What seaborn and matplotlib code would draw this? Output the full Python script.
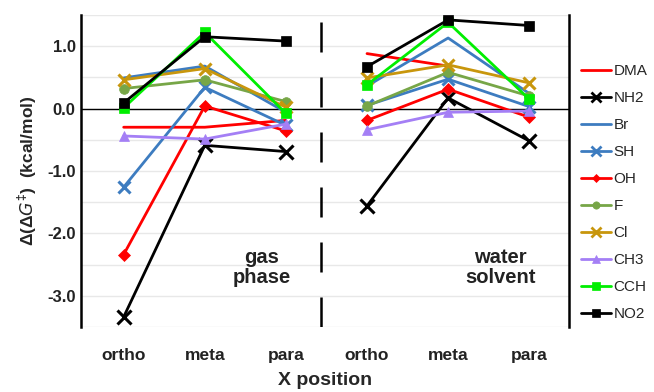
import numpy as np
import pandas as pd
import matplotlib
matplotlib.use("Agg")
import matplotlib.pyplot as plt
import seaborn as sns

# substituents in legend order
substituents = ["DMA", "NH2", "Br", "SH", "OH", "F", "Cl", "CH3", "CCH", "NO2"]
positions = ["ortho", "meta", "para"]

# delta(delta G) values, kcal/mol, ortho / meta / para
gas_vals = [
    [-0.30, -0.30, -0.19],   # DMA
    [-3.34, -0.59, -0.69],   # NH2
    [0.49, 0.68, -0.06],     # Br
    [-1.26, 0.34, -0.27],    # SH
    [-2.34, 0.04, -0.36],    # OH
    [0.32, 0.46, 0.11],      # F
    [0.46, 0.64, 0.02],      # Cl
    [-0.44, -0.49, -0.25],   # CH3
    [0.01, 1.22, -0.08],     # CCH
    [0.09, 1.15, 1.08],      # NO2
]
water_vals = [
    [0.88, 0.68, np.nan],    # DMA
    [-1.56, 0.17, -0.52],    # NH2
    [0.36, 1.13, 0.24],      # Br
    [0.05, 0.47, 0.03],      # SH
    [-0.19, 0.31, -0.14],    # OH
    [0.04, 0.58, 0.20],      # F
    [0.49, 0.70, 0.41],      # Cl
    [-0.34, -0.06, -0.04],   # CH3
    [0.38, 1.38, 0.15],      # CCH
    [0.67, 1.42, 1.33],      # NO2
]

colors = ["#ff0000", "#000000", "#3d7cc0", "#3d7cc0", "#ff0000",
          "#77a647", "#c8960c", "#a47ff5", "#00ee00", "#000000"]
markers = [None, "x", None, "x", "D", "o", "x", "^", "s", "s"]
msizes = [0, 10, 0, 9, 6, 7, 9, 7, 7, 7]

sns.set_theme(style="white")
plt.rcParams["font.family"] = ["Liberation Sans", "DejaVu Sans"]
plt.rcParams["mathtext.fontset"] = "custom"
plt.rcParams["mathtext.bf"] = "Liberation Sans:bold"
plt.rcParams["mathtext.rm"] = "Liberation Sans:bold"

rows = []
for i, name in enumerate(substituents):
    for j in range(3):
        rows.append({"sub": name, "phase": "gas", "x": j + 1, "val": gas_vals[i][j]})
        rows.append({"sub": name, "phase": "water", "x": j + 4, "val": water_vals[i][j]})
df = pd.DataFrame(rows)

fig = plt.figure(figsize=(6.54, 3.92), dpi=100)
ax = fig.add_axes([0.124, 0.166, 0.746, 0.796])

# grid and reference lines
for yv in np.arange(-3.5, 1.51, 0.5):
    ax.axhline(yv, color="#e8e8e8", lw=1.0, zorder=0)
ax.axhline(0, color="black", lw=1.0, zorder=1)
ax.axvline(3.43, color="black", lw=1.8, dashes=(12, 10), zorder=1)

for i, name in enumerate(substituents):
    for phase in ["gas", "water"]:
        sub = df[(df["sub"] == name) & (df["phase"] == phase)].dropna()
        sns.lineplot(data=sub, x="x", y="val", ax=ax, color=colors[i],
                     marker=markers[i], markersize=msizes[i],
                     markeredgecolor=colors[i],
                     markeredgewidth=2.2 if markers[i] == "x" else 0.5,
                     linewidth=2.0, legend=False, zorder=3)

ax.set_xlim(0.475, 6.49)
ax.set_ylim(-3.5, 1.5)
ax.set_xticks([1, 2, 3, 4, 5, 6])
ax.set_xticklabels(positions * 2, fontsize=12.5, fontweight="bold", color="#222222")
ax.set_yticks([-3, -2, -1, 0, 1])
ax.set_yticklabels(["-3.0", "-2.0", "-1.0", "0.0", "1.0"], fontsize=12,
                   fontweight="bold", color="#222222")
ax.tick_params(axis="x", length=0, pad=15)
ax.tick_params(axis="y", length=0, pad=4)

ax.set_xlabel("X position", fontsize=14, fontweight="bold", labelpad=7)
ax.set_ylabel(r"$\Delta(\Delta G^{‡})$  (kcal/mol)", fontsize=12.5,
              fontweight="bold", labelpad=6)

for s in ["top", "bottom"]:
    ax.spines[s].set_visible(False)
for s in ["left", "right"]:
    ax.spines[s].set_color("black")
    ax.spines[s].set_linewidth(1.8)

ax.text(2.7, -2.55, "gas\nphase", ha="center", va="center", fontsize=14.5,
        fontweight="bold", color="#222222", linespacing=1.05)
ax.text(5.65, -2.55, "water\nsolvent", ha="center", va="center", fontsize=14.5,
        fontweight="bold", color="#222222", linespacing=1.05)

handles = []
for i, name in enumerate(substituents):
    h, = ax.plot([], [], color=colors[i], marker=markers[i],
                 markersize=msizes[i] * 0.75, markeredgecolor=colors[i],
                 markeredgewidth=2 if markers[i] == "x" else 0.5,
                 linewidth=2.0, label=name)
    handles.append(h)
fig.legend(handles=handles, loc="center left", bbox_to_anchor=(0.888, 0.508),
           frameon=False, fontsize=11, handlelength=2.0, handletextpad=0.15,
           labelspacing=0.85, borderaxespad=0, borderpad=0)

fig.savefig("out.png", dpi=100)
